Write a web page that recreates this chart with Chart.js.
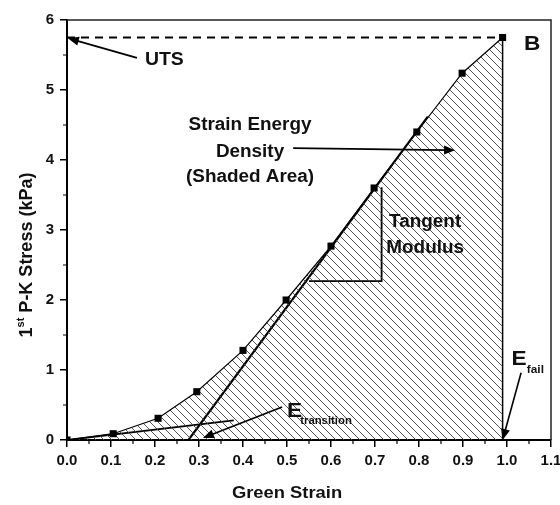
<!DOCTYPE html>
<html><head><meta charset="utf-8">
<script src="https://cdn.jsdelivr.net/npm/chart.js@4/dist/chart.umd.min.js"></script>
<style>html,body{margin:0;padding:0;background:#fff}</style>
</head><body>
<canvas id="c" width="560" height="505"></canvas>
<script>
// ---- data ----
const strain = [0, 0.105, 0.207, 0.295, 0.4, 0.498, 0.6, 0.698, 0.795, 0.898, 0.99];
const stress = [0, 0.09, 0.31, 0.69, 1.28, 2.0, 2.77, 3.6, 4.4, 5.24, 5.75];
const xTickValues = [0, 0.1, 0.2, 0.3, 0.4, 0.5, 0.6, 0.7, 0.8, 0.9, 1.0, 1.1];
const yTickValues = [0, 1, 2, 3, 4, 5, 6];
const tangentStrain = [0.276, 0.82];
const tangentStress = [0, 4.62];
const transitionStrain = [0, 0.379];
const transitionStress = [0, 0.28];
const modulusStrain = [0.55, 0.715, 0.715];
const modulusStress = [2.27, 2.27, 3.61];
const utsStrain = [0, 0.99];
const utsStress = [5.75, 5.75];
const failStrain = [0.99, 0.99];
const failStress = [5.75, 0];

const pts = (xs, ys) => xs.map((x, i) => ({x, y: ys[i]}));
const FONT = '"Liberation Sans", Arial, sans-serif';
const STRETCH = 1.08;

const canvas = document.getElementById('c');
const ctx0 = canvas.getContext('2d');
function makeHatch() {
  const s = 8, c = document.createElement('canvas');
  c.width = c.height = s;
  const g = c.getContext('2d');
  g.strokeStyle = '#444'; g.lineWidth = 0.9;
  g.beginPath();
  g.moveTo(-1, -1); g.lineTo(s + 1, s + 1);
  g.moveTo(-1, s - 1); g.lineTo(1, s + 1);
  g.moveTo(s - 1, -1); g.lineTo(s + 1, 1);
  g.stroke();
  return ctx0.createPattern(c, 'repeat');
}

function arrow(ctx, x1, y1, x2, y2, lw) {
  const a = Math.atan2(y2 - y1, x2 - x1), L = 11, W = 4.5;
  ctx.save();
  ctx.strokeStyle = '#000'; ctx.fillStyle = '#000'; ctx.lineWidth = lw || 1.8;
  ctx.beginPath(); ctx.moveTo(x1, y1);
  ctx.lineTo(x2 - Math.cos(a) * L * 0.8, y2 - Math.sin(a) * L * 0.8); ctx.stroke();
  ctx.beginPath();
  ctx.moveTo(x2, y2);
  ctx.lineTo(x2 - Math.cos(a) * L - Math.sin(a) * W, y2 - Math.sin(a) * L + Math.cos(a) * W);
  ctx.lineTo(x2 - Math.cos(a) * L + Math.sin(a) * W, y2 - Math.sin(a) * L - Math.cos(a) * W);
  ctx.closePath(); ctx.fill();
  ctx.restore();
}

// stretched text: x,y in pixels
function txt(ctx, s, x, y, size, align, baseline) {
  ctx.save();
  ctx.font = 'bold ' + size + 'px ' + FONT;
  ctx.textAlign = align || 'left';
  ctx.textBaseline = baseline || 'middle';
  ctx.fillStyle = '#111';
  ctx.translate(x, y);
  ctx.scale(STRETCH, 1);
  ctx.fillText(s, 0, 0);
  ctx.restore();
}

const decor = {
  id: 'decor',
  afterDraw(chart) {
    const ctx = chart.ctx, xs = chart.scales.x, ys = chart.scales.y, ca = chart.chartArea;
    const X = v => xs.getPixelForValue(v), Y = v => ys.getPixelForValue(v);
    ctx.save();
    // box
    ctx.strokeStyle = '#222'; ctx.lineWidth = 1.5;
    ctx.beginPath();
    ctx.moveTo(ca.left, ca.top); ctx.lineTo(ca.right, ca.top); ctx.lineTo(ca.right, ca.bottom);
    ctx.stroke();
    // minor ticks
    ctx.strokeStyle = '#000'; ctx.lineWidth = 1.2;
    ctx.beginPath();
    for (let i = 0; i < xTickValues.length - 1; i++) {
      const px = X((xTickValues[i] + xTickValues[i + 1]) / 2);
      ctx.moveTo(px, ca.bottom); ctx.lineTo(px, ca.bottom + 4);
    }
    for (let i = 0; i < yTickValues.length - 1; i++) {
      const py = Y((yTickValues[i] + yTickValues[i + 1]) / 2);
      ctx.moveTo(ca.left, py); ctx.lineTo(ca.left - 4, py);
    }
    ctx.stroke();
    // arrows
    arrow(ctx, X(0.159), Y(5.46), X(0.002), Y(5.74), 1.8);
    arrow(ctx, X(0.514), Y(4.17), X(0.882), Y(4.14), 1.8);
    arrow(ctx, X(0.489), Y(0.47), X(0.309), Y(0.03), 1.6);
    arrow(ctx, X(1.032), Y(0.96), X(0.99), Y(0.0), 1.6);
    // texts
    txt(ctx, 'UTS', X(0.177), Y(5.43), 18, 'left');
    txt(ctx, 'Strain Energy', X(0.416), Y(4.5), 17.5, 'center');
    txt(ctx, 'Density', X(0.416), Y(4.11), 17.5, 'center');
    txt(ctx, '(Shaded Area)', X(0.416), Y(3.76), 17.5, 'center');
    txt(ctx, 'Tangent', X(0.814), Y(3.11), 17.5, 'center');
    txt(ctx, 'Modulus', X(0.814), Y(2.74), 17.5, 'center');
    txt(ctx, 'B', X(1.057), Y(5.66), 21, 'center');
    txt(ctx, 'E', X(0.5), Y(0.33), 21, 'left', 'alphabetic');
    txt(ctx, 'transition', X(0.53), Y(0.23), 10.5, 'left', 'alphabetic');
    txt(ctx, 'E', X(1.01), Y(1.07), 21, 'left', 'alphabetic');
    txt(ctx, 'fail', X(1.045), Y(0.96), 11, 'left', 'alphabetic');
    // axis titles
    txt(ctx, 'Green Strain', 287, 493, 17, 'center');
    ctx.translate(25, 255);
    ctx.rotate(-Math.PI / 2);
    ctx.fillStyle = '#111';
    ctx.textAlign = 'left';
    ctx.textBaseline = 'alphabetic';
    const p1 = '1', p2 = 'st', p3 = ' P-K Stress (kPa)';
    ctx.font = 'bold 18px ' + FONT; const w1 = ctx.measureText(p1).width, w3 = ctx.measureText(p3).width;
    ctx.font = 'bold 11px ' + FONT; const w2 = ctx.measureText(p2).width;
    let sx = -(w1 + w2 + w3) / 2;
    ctx.font = 'bold 18px ' + FONT; ctx.fillText(p1, sx, 7); sx += w1;
    ctx.font = 'bold 11px ' + FONT; ctx.fillText(p2, sx, -1); sx += w2;
    ctx.font = 'bold 18px ' + FONT; ctx.fillText(p3, sx, 7);
    ctx.restore();
  }
};

const lineDs = (data, w, extra) => Object.assign({
  data, showLine: true, borderColor: '#000', borderWidth: w, pointRadius: 0,
  fill: false, tension: 0
}, extra || {});

new Chart(canvas, {
  type: 'scatter',
  data: {
    datasets: [
      lineDs(pts(strain, stress), 1.2, {
        pointRadius: 5, pointStyle: 'rect', pointBackgroundColor: '#000',
        pointBorderColor: '#000', pointBorderWidth: 0,
        fill: 'origin', backgroundColor: makeHatch()
      }),
      lineDs(pts(tangentStrain, tangentStress), 2.2),
      lineDs(pts(transitionStrain, transitionStress), 1.8),
      lineDs(pts(modulusStrain, modulusStress), 1.8),
      lineDs(pts(utsStrain, utsStress), 2, {borderDash: [8, 6]}),
      lineDs(pts(failStrain, failStress), 1.5)
    ]
  },
  options: {
    responsive: false,
    animation: false,
    devicePixelRatio: 1,
    layout: {padding: {top: 20, right: 9, left: 0, bottom: 0}},
    plugins: {legend: {display: false}, tooltip: {enabled: false}},
    scales: {
      x: {
        type: 'linear', min: 0, max: 1.1,
        afterBuildTicks: s => { s.ticks = xTickValues.map(v => ({value: v})); },
        afterFit: s => { s.height = 65; s.paddingLeft = 0; s.paddingRight = 0; },
        grid: {display: true, drawOnChartArea: false, drawTicks: true, tickLength: 7, color: '#000', lineWidth: 1.5},
        border: {display: true, color: '#000', width: 2},
        ticks: {
          autoSkip: false, maxRotation: 0, padding: 5, color: '#111',
          font: {family: FONT, size: 15, weight: 'bold'},
          callback: v => Number(v).toFixed(1)
        }
      },
      y: {
        type: 'linear', min: 0, max: 6,
        afterBuildTicks: s => { s.ticks = yTickValues.map(v => ({value: v})); },
        afterFit: s => { s.width = 67; s.paddingTop = 0; s.paddingBottom = 0; },
        grid: {display: true, drawOnChartArea: false, drawTicks: true, tickLength: 7, color: '#000', lineWidth: 1.5},
        border: {display: true, color: '#000', width: 2},
        ticks: {
          autoSkip: false, padding: 6, color: '#111',
          font: {family: FONT, size: 15, weight: 'bold'},
          callback: v => String(v)
        }
      }
    }
  },
  plugins: [decor]
});
</script>
</body></html>
